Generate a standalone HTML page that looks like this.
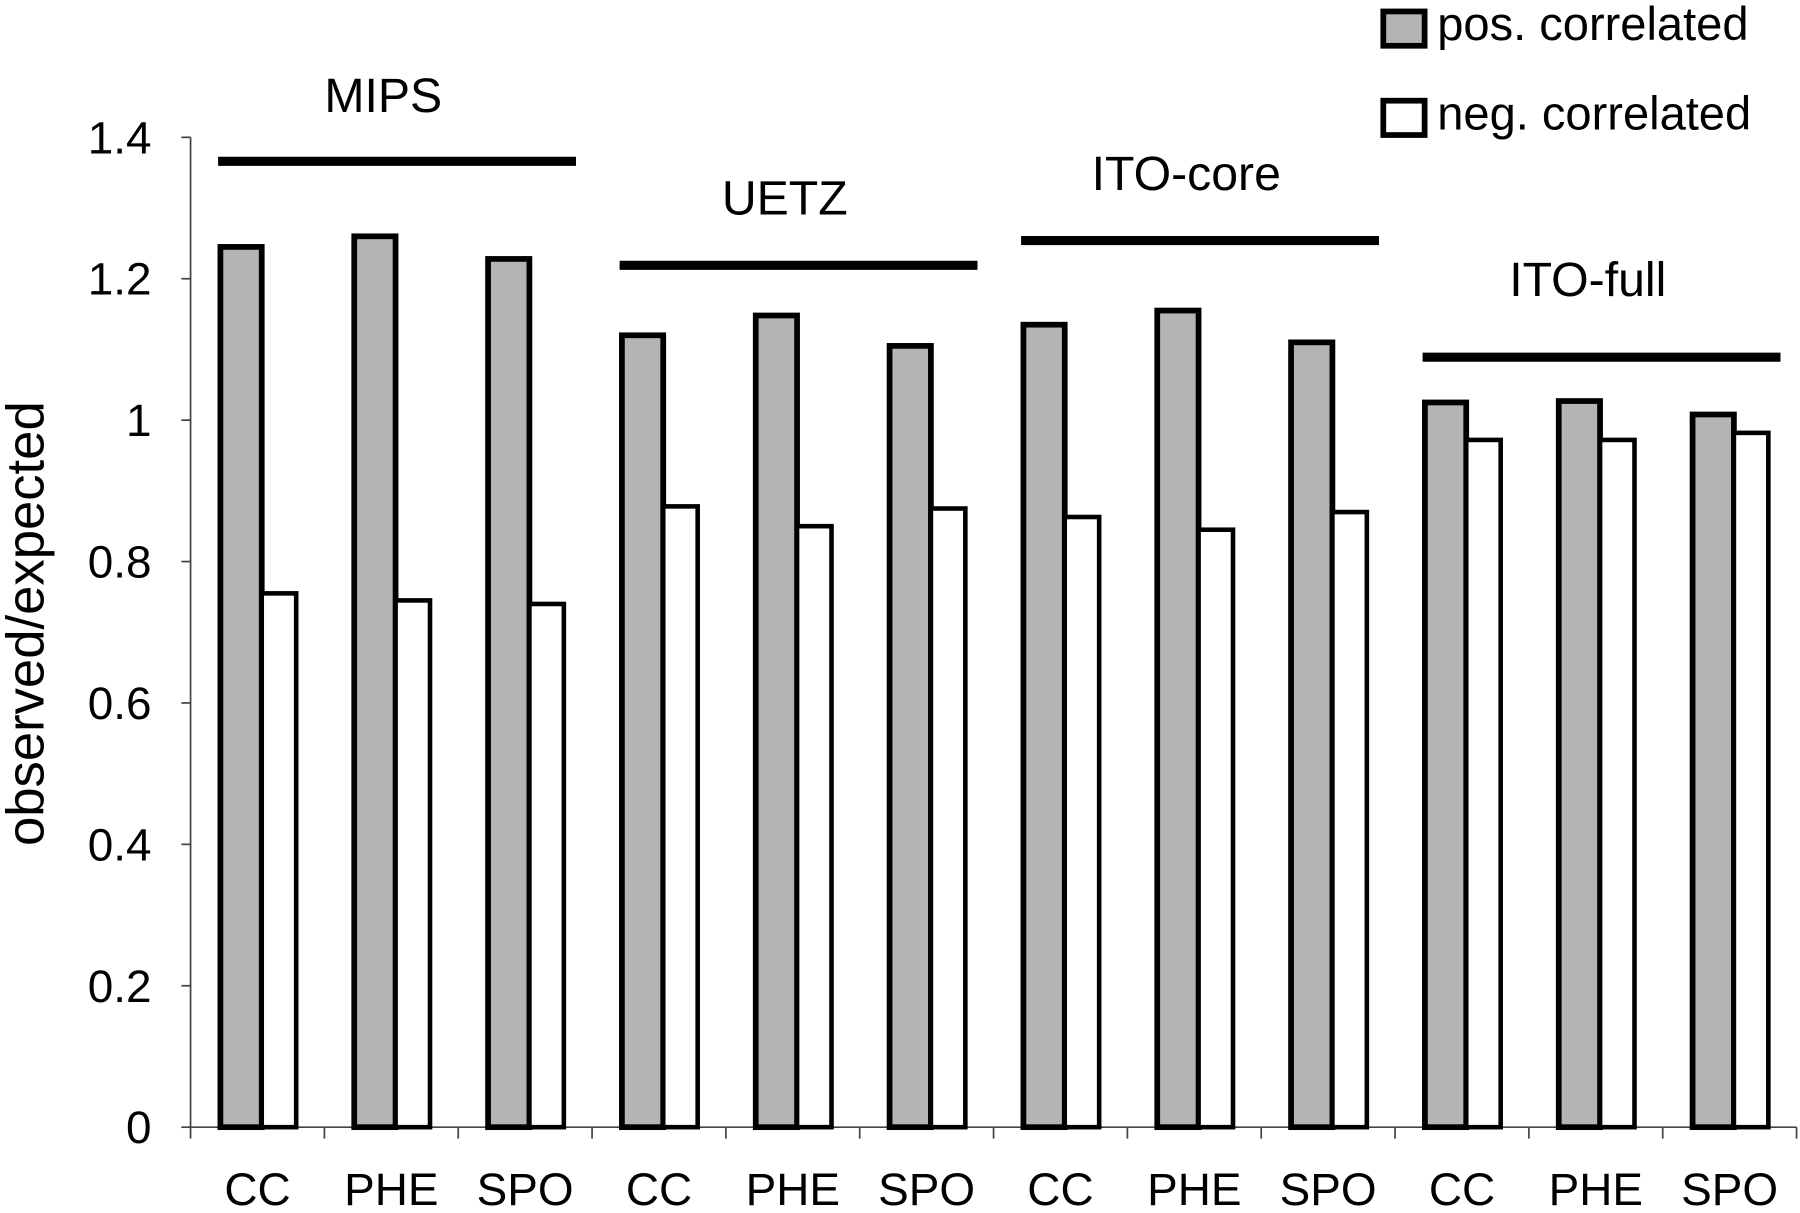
<!DOCTYPE html>
<html><head><meta charset="utf-8"><style>
html,body{margin:0;padding:0;background:#fff;}
svg{display:block;font-family:"Liberation Sans",Arial,sans-serif;}
</style></head><body>
<svg id="chart" width="1800" height="1213" viewBox="0 0 1568 1060" preserveAspectRatio="none" xmlns="http://www.w3.org/2000/svg">
<g id="axes"></g><g id="bars"></g><g id="groups"></g>
<g>
<rect x="1205" y="10" width="36" height="30" fill="#b4b4b4" stroke="#000" stroke-width="5"/>
<text x="1252" y="35" font-size="41">pos. correlated</text>
<rect x="1205" y="88" width="36" height="30" fill="#fff" stroke="#000" stroke-width="5"/>
<text x="1252" y="113" font-size="41">neg. correlated</text>
</g>
<text transform="translate(38,545) rotate(-90)" text-anchor="middle" font-size="46">observed/expected</text>
</svg>
<script>
const categories = ["CC","PHE","SPO","CC","PHE","SPO","CC","PHE","SPO","CC","PHE","SPO"];
const posValues = [1.245,1.26,1.228,1.12,1.148,1.105,1.135,1.155,1.11,1.025,1.027,1.008];
const negValues = [0.755,0.745,0.74,0.878,0.85,0.875,0.863,0.845,0.87,0.972,0.972,0.982];
const yTicks = [0,0.2,0.4,0.6,0.8,1,1.2,1.4];
const groupNames = ["MIPS","UETZ","ITO-core","ITO-full"];
const groupLineValues = [1.366,1.219,1.254,1.089];
const groupLabelValues = [1.46,1.315,1.35,1.2];

const NS="http://www.w3.org/2000/svg";
const x0=166,x1=1565,yBase=985,yTop=120;
const y=v=>yBase-(v/1.4)*(yBase-yTop);
const cw=(x1-x0)/categories.length;
const xc=i=>x0+i*cw;
function mk(tag,attrs,parent,txt){const e=document.createElementNS(NS,tag);for(const k in attrs)e.setAttribute(k,attrs[k]);if(txt!==undefined)e.textContent=txt;parent.appendChild(e);return e;}
const axes=document.getElementById('axes'),bars=document.getElementById('bars'),groups=document.getElementById('groups');

let e=mk('line',{x1:x0,y1:y(1.4),x2:x0,y2:yBase,stroke:'#444','stroke-width':1.5},axes);


e=mk('line',{x1:x0,y1:yBase,x2:x1,y2:yBase,stroke:'#444','stroke-width':1.5},axes);


yTicks.forEach(t=>{
  let l=mk('line',{x1:x0-8,y1:y(t),x2:x0,y2:y(t),stroke:'#444','stroke-width':1.5},axes);
  
  
  let tx=mk('text',{x:132,y:y(t)+14,'text-anchor':'end','font-size':40},axes,String(t));
  
  
});
for(let i=0;i<=categories.length;i++){
  let l=mk('line',{x1:xc(i),y1:yBase,x2:xc(i),y2:yBase+10,stroke:'#444','stroke-width':1.5},axes);
  
  
}
categories.forEach((c,i)=>{
  let tx=mk('text',{x:xc(i)+cw/2,y:1053,'text-anchor':'middle','font-size':40},axes,c);
  
  
  const bw=36, bx=xc(i)+26;
  let r=mk('rect',{x:bx,y:y(posValues[i]),width:bw,height:yBase-y(posValues[i]),fill:'#b4b4b4',stroke:'#000','stroke-width':5},bars);
  
  
  r=mk('rect',{x:bx+bw,y:y(negValues[i]),width:30,height:yBase-y(negValues[i]),fill:'#fff',stroke:'#000','stroke-width':4},bars);
  
  
});
groupNames.forEach((g,k)=>{
  const gx0=xc(k*3)+24, gx1=xc(k*3+3)-14;
  let l=mk('line',{x1:gx0,y1:y(groupLineValues[k]),x2:gx1,y2:y(groupLineValues[k]),stroke:'#000','stroke-width':8},groups);
  
  
  let tx=mk('text',{x:(gx0+gx1)/2-12,y:y(groupLabelValues[k])+15,'text-anchor':'middle','font-size':42},groups,g);
  
  
});
</script>
</body></html>
